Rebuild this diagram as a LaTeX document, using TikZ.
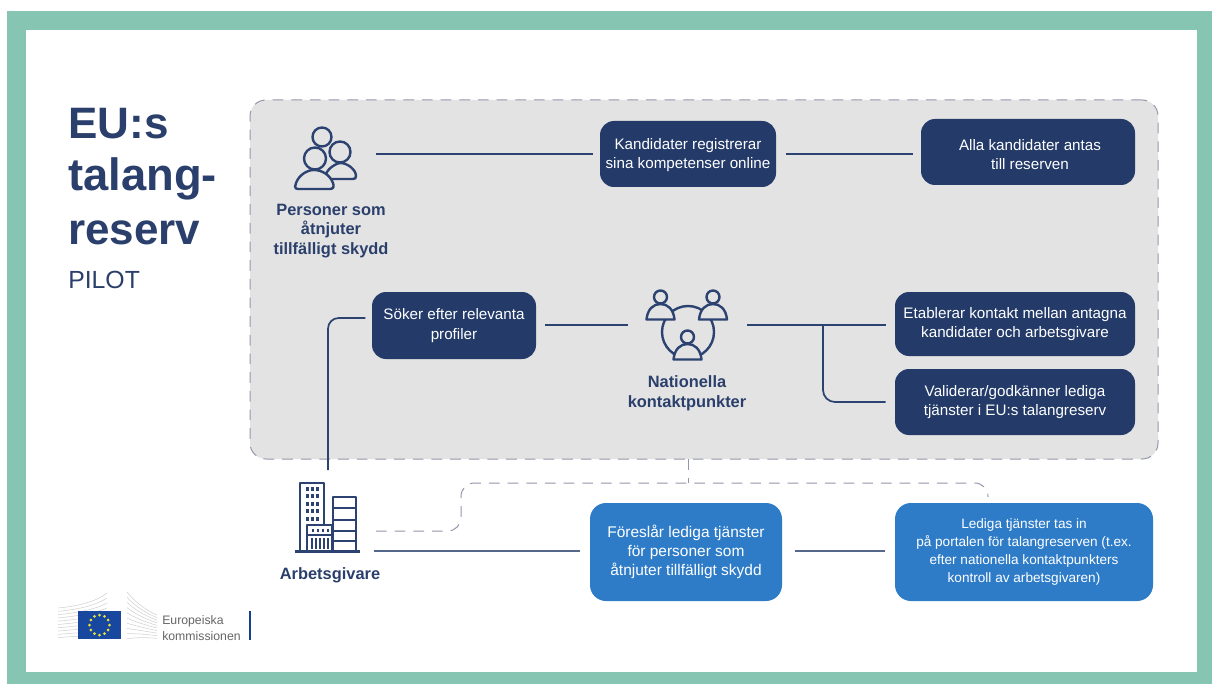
\documentclass[tikz,border=0pt]{standalone}
\usepackage{fontspec}
\setmainfont{Liberation Sans}
\definecolor{frameg}{HTML}{85C5B2}
\definecolor{navy}{HTML}{243B69}
\definecolor{textn}{HTML}{2A3F6B}
\definecolor{lineb}{HTML}{2C4270}
\definecolor{linel}{HTML}{55688C}
\definecolor{panelg}{HTML}{E3E3E3}
\definecolor{dashg}{HTML}{9498AC}
\definecolor{blueb}{HTML}{2E7CC8}
\definecolor{eublue}{HTML}{17479E}
\definecolor{eustar}{HTML}{E8E23A}
\tikzset{
  x=0.75pt,y=-0.75pt,
  darkbox/.style={draw=none,fill=navy,rounded corners=10.5pt,inner sep=0pt,outer sep=0pt,align=center,text=white,font=\fontsize{11.4}{14.8}\selectfont},
  bluebox/.style={draw=none,fill=blueb,rounded corners=12pt,inner sep=0pt,outer sep=0pt,align=center,text=white},
  conn/.style={draw=lineb,line width=1.3pt},
  connl/.style={draw=linel,line width=1.6pt},
  dashconn/.style={draw=dashg,line width=0.75pt,dash pattern=on 8pt off 6pt},
  icon/.style={draw=lineb,line width=1.8pt,line join=round},
  iconfill/.style={icon,fill=panelg},
  lab/.style={inner sep=0pt,outer sep=0pt,align=center,text=textn,font=\fontsize{12.3}{14.7}\selectfont\bfseries},
}
\begin{document}
\begin{tikzpicture}
\useasboundingbox (0,0) rectangle (1212,684);
\fill[white] (0,0) rectangle (1212,684);
\fill[frameg] (7,11) rectangle (1212,684);
\fill[white] (26,30) rectangle (1197,672);

% title
\node[anchor=base west,inner sep=0pt,text=textn,font=\fontsize{33}{33}\selectfont\bfseries] (t1) at (68,139) {EU:s};
\node[anchor=base west,inner sep=0pt,text=textn,font=\fontsize{34}{34}\selectfont\bfseries] (t2) at (68,191) {talang-};
\node[anchor=base west,inner sep=0pt,text=textn,font=\fontsize{33}{33}\selectfont\bfseries] (t3) at (68,244) {reserv};
\node[anchor=base west,inner sep=0pt,text=textn,font=\fontsize{18.6}{18.6}\selectfont] (t4) at (68,288) {PILOT};

% panel
\node[draw=dashg,fill=panelg,line width=0.75pt,dash pattern=on 8pt off 6pt,rounded corners=12pt,inner sep=0pt,minimum width=908*0.75pt,minimum height=359*0.75pt] (panel) at (704,279.5) {};

% boxes
\node[darkbox,minimum width=176*0.75pt,minimum height=66*0.75pt] (k1) at (688,154) {};
\node[inner sep=0pt,align=center,text=white,font=\fontsize{11.4}{14.8}\selectfont] (k1t) at (688,155) {Kandidater registrerar\\sina kompetenser online};
\node[darkbox,minimum width=214*0.75pt,minimum height=66*0.75pt] (k2) at (1028,152) {};
\node[inner sep=0pt,align=center,text=white,font=\fontsize{11.4}{14.3}\selectfont] (k2t) at (1030,155) {Alla kandidater antas\\till reserven};
\node[darkbox,minimum width=164*0.75pt,minimum height=67*0.75pt] (s) at (454,325.5) {Söker efter relevanta\\profiler};
\node[darkbox,minimum width=240*0.75pt,minimum height=64*0.75pt] (e1) at (1015,324) {Etablerar kontakt mellan antagna\\kandidater och arbetsgivare};
\node[darkbox,minimum width=240*0.75pt,minimum height=66*0.75pt] (e2) at (1015,402) {Validerar/godkänner lediga\\tjänster i EU:s talangreserv};
\node[bluebox,minimum width=192*0.75pt,minimum height=98*0.75pt,font=\fontsize{11.6}{14.2}\selectfont] (f) at (686,552) {Föreslår lediga tjänster\\för personer som\\åtnjuter tillfälligt skydd};
\node[bluebox,minimum width=258*0.75pt,minimum height=98*0.75pt,font=\fontsize{10.2}{13.4}\selectfont] (l) at (1024,552) {Lediga tjänster tas in\\på portalen för talangreserven (t.ex.\\efter nationella kontaktpunkters\\kontroll av arbetsgivaren)};

% labels
\node[lab] (pl) at (331,231) {Personer som\\åtnjuter\\tillfälligt skydd};
\node[lab] (nl) at (687,393) {Nationella\\kontaktpunkter};
\node[lab] (al) at (330,575) {Arbetsgivare};

% free ends
\coordinate (pa) at (376,154);
\coordinate (na) at (747,325);
\coordinate (nb) at (628,325);
\coordinate (br) at (823,325);
\coordinate (ba) at (328,470);
\coordinate (ar) at (374,551);
\coordinate (ad) at (376,531);
\coordinate (pb) at (688,459);

% connectors
\draw[conn,shorten >=5pt] (pa) -- (k1.west);
\draw[conn,shorten <=7.5pt,shorten >=6pt] (k1.east) -- (k1.east -| k2.west);
\draw[conn,shorten <=7pt] (s.east |- nb) -- (nb);
\draw[conn,rounded corners=8pt,shorten >=5pt] (ba) -- (328,318) -- (s.west |- 0,318);
\draw[conn,shorten >=7pt] (na) -- (na -| e1.west);
\draw[conn,rounded corners=9pt,shorten >=7pt] (br) -- (823,402) -- (e2.west);
\draw[connl,shorten >=7.5pt] (ar) -- (f.west |- ar);
\draw[connl,shorten <=10pt,shorten >=7.5pt] (f.east |- ar) -- (l.west |- ar);

% dashed
\draw[dashconn,rounded corners=10pt] (ad) -- (461,531) -- (461,483) -- (988,483) -- (988,497);
\draw[dashconn] (pb) -- (688,483);

% people icon
\begin{scope}
\draw[iconfill] (322,137) circle (9.5);
\draw[iconfill] (325,179) .. controls (325,168) and (338,163) .. (340,163) .. controls (348,163) and (356,170) .. (356,176) .. controls (356,178) and (355,179) .. (353,179) -- cycle;
\draw[iconfill] (340,152) circle (10.5);
\draw[iconfill] (298,189) .. controls (294,189) and (295,185) .. (296,183) .. controls (299,175) and (307,170) .. (314,170) .. controls (322,170) and (330,175) .. (333,183) .. controls (334,186) and (334,189) .. (330,189) -- cycle;
\draw[iconfill] (315,158.5) circle (11);
\end{scope}

% contact icon
\begin{scope}
\draw[icon] (688,332) circle (26);
\foreach \cx/\cy in {660.5/297, 713/297, 687.5/337}{
  \begin{scope}[shift={(\cx,\cy)}]
    \draw[iconfill] (-14,22.5) .. controls (-13,12) and (-7,7) .. (0,7) .. controls (7,7) and (13,12) .. (14,22.5) -- cycle;
    \draw[iconfill] (0,0) circle (6.5);
  \end{scope}
}
\end{scope}

% buildings icon
\begin{scope}
\draw[icon] (300,551) -- (300,483) -- (324,483) -- (324,525);
\draw[icon] (307,551) -- (307,525) -- (332,525) -- (332,551);
\draw[icon] (307,535) -- (332,535);
\draw[icon] (333,551) -- (333,497) -- (356,497) -- (356,551);
\foreach \yy in {508,520,531,541}{\draw[icon] (333,\yy) -- (356,\yy);}
\draw[icon] (295,551.5) -- (360,551.5);
\foreach \xx in {307,312,317}{
  \foreach \yy in {489,496,504,511,519}{
    \fill[lineb] (\xx-1.5,\yy-1.8) rectangle (\xx+1.5,\yy+1.8);
  }
}
\foreach \xx in {313,318,323,328}{\fill[lineb] (\xx-1.1,528.5) rectangle (\xx+1.1,532);}
\foreach \xx in {312,316,320,324,328}{\fill[lineb] (\xx-0.9,538) rectangle (\xx+0.9,549);}
\end{scope}

% logo
\begin{scope}
\foreach \i in {0,1,...,9}{
  \draw[black!18,line width=0.4pt] (58,{608+\i*3.3}) .. controls (80,{606+\i*3.3}) and (97,{601+\i*3.8}) .. (107,{593+\i*5});
  \draw[black!18,line width=0.4pt] (127,{592+\i*5.2}) .. controls (133,{600+\i*4.2}) and (145,{610+\i*3}) .. (157,{615+\i*2.6});
}
\fill[eublue] (78,611) rectangle (121,639);
\foreach \a in {0,30,...,330}{\fill[eustar] ({99.5+10*cos(\a)},{625+10*sin(\a)}) circle (1.5);}
\fill[eublue!90!black] (248.5,611) rectangle (250.5,640);
\node[anchor=base west,inner sep=0pt,text=black!60,font=\fontsize{9.2}{9.2}\selectfont] (e3) at (162,624) {Europeiska};
\node[anchor=base west,inner sep=0pt,text=black!60,font=\fontsize{9.2}{9.2}\selectfont] (e4) at (162,640) {kommissionen};
\end{scope}
\end{tikzpicture}
\end{document}
